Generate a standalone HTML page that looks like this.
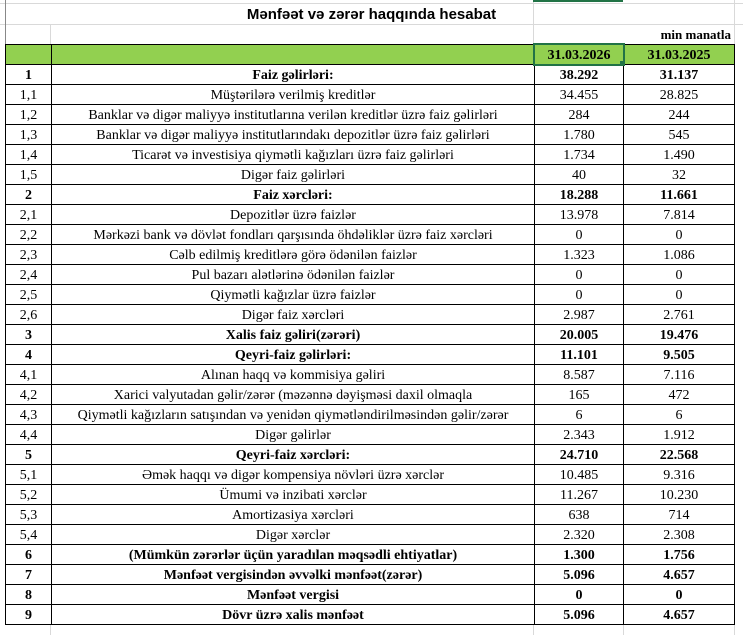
<!DOCTYPE html>
<html><head><meta charset="utf-8"><style>
body{margin:0;width:743px;height:635px;background:#fff;position:relative;overflow:hidden;font-family:"Liberation Serif",serif;}
.grid{position:absolute;background:#d9d9d9;}
.title{position:absolute;left:0;width:743px;top:6px;text-align:center;font:bold 15px "Liberation Sans",sans-serif;color:#000;}
.unit{position:absolute;right:12px;top:27px;font:bold 13px "Liberation Serif",serif;}
table{position:absolute;left:5px;top:44px;border-collapse:collapse;table-layout:fixed;}
td{border:1px solid #000;height:17px;padding:2px 0 0 0;text-align:center;font-size:14px;line-height:17px;white-space:nowrap;overflow:hidden;}
tr.h td{background:#92d050;font-weight:bold;font-size:14px;}
tr.b td{font-weight:bold;}
.sel{position:absolute;left:533px;top:43px;width:88px;height:19px;border:2px solid #217346;}
.selh{position:absolute;left:533px;top:0;width:90px;height:2px;background:#217346;}
.hd{position:absolute;left:620px;top:61px;width:5px;height:5px;background:#217346;}
</style></head><body>
<div class="grid" style="left:0;top:3px;width:743px;height:1px"></div>
<div class="grid" style="left:0;top:24px;width:743px;height:1px"></div>
<div class="grid" style="left:50px;top:24px;width:1px;height:20px"></div>
<div class="grid" style="left:533px;top:0;width:1px;height:44px"></div>
<div class="grid" style="left:734px;top:0;width:1px;height:635px"></div>
<div class="grid" style="left:5px;top:0;width:1px;height:44px;background:#888"></div>
<div class="grid" style="left:50px;top:624px;width:1px;height:11px"></div>
<div class="grid" style="left:533px;top:624px;width:1px;height:11px"></div>
<div class="grid" style="left:623px;top:624px;width:1px;height:11px"></div>
<div class="selh"></div>
<div class="title">Mənfəət və zərər haqqında hesabat</div>
<div class="unit">min manatla</div>
<table>
<colgroup><col style="width:46px"><col style="width:483px"><col style="width:89px"><col style="width:111px"></colgroup>
<tr class="h"><td></td><td></td><td>31.03.2026</td><td>31.03.2025</td></tr>
<tr class="b"><td>1</td><td>Faiz gəlirləri:</td><td>38.292</td><td>31.137</td></tr>
<tr><td>1,1</td><td>Müştərilərə verilmiş kreditlər</td><td>34.455</td><td>28.825</td></tr>
<tr><td>1,2</td><td>Banklar və digər maliyyə institutlarına verilən kreditlər üzrə faiz gəlirləri</td><td>284</td><td>244</td></tr>
<tr><td>1,3</td><td>Banklar və digər maliyyə institutlarındakı depozitlər üzrə faiz gəlirləri</td><td>1.780</td><td>545</td></tr>
<tr><td>1,4</td><td>Ticarət və investisiya qiymətli kağızları üzrə faiz gəlirləri</td><td>1.734</td><td>1.490</td></tr>
<tr><td>1,5</td><td>Digər faiz gəlirləri</td><td>40</td><td>32</td></tr>
<tr class="b"><td>2</td><td>Faiz xərcləri:</td><td>18.288</td><td>11.661</td></tr>
<tr><td>2,1</td><td>Depozitlər üzrə faizlər</td><td>13.978</td><td>7.814</td></tr>
<tr><td>2,2</td><td>Mərkəzi bank və dövlət fondları qarşısında öhdəliklər üzrə faiz xərcləri</td><td>0</td><td>0</td></tr>
<tr><td>2,3</td><td>Cəlb edilmiş kreditlərə görə ödənilən faizlər</td><td>1.323</td><td>1.086</td></tr>
<tr><td>2,4</td><td>Pul bazarı alətlərinə ödənilən faizlər</td><td>0</td><td>0</td></tr>
<tr><td>2,5</td><td>Qiymətli kağızlar üzrə faizlər</td><td>0</td><td>0</td></tr>
<tr><td>2,6</td><td>Digər faiz xərcləri</td><td>2.987</td><td>2.761</td></tr>
<tr class="b"><td>3</td><td>Xalis faiz gəliri(zərəri)</td><td>20.005</td><td>19.476</td></tr>
<tr class="b"><td>4</td><td>Qeyri-faiz gəlirləri:</td><td>11.101</td><td>9.505</td></tr>
<tr><td>4,1</td><td>Alınan haqq və kommisiya gəliri</td><td>8.587</td><td>7.116</td></tr>
<tr><td>4,2</td><td>Xarici valyutadan gəlir/zərər (məzənnə dəyişməsi daxil olmaqla</td><td>165</td><td>472</td></tr>
<tr><td>4,3</td><td>Qiymətli kağızların satışından və yenidən qiymətləndirilməsindən gəlir/zərər</td><td>6</td><td>6</td></tr>
<tr><td>4,4</td><td>Digər gəlirlər</td><td>2.343</td><td>1.912</td></tr>
<tr class="b"><td>5</td><td>Qeyri-faiz xərcləri:</td><td>24.710</td><td>22.568</td></tr>
<tr><td>5,1</td><td>Əmək haqqı və digər kompensiya növləri üzrə xərclər</td><td>10.485</td><td>9.316</td></tr>
<tr><td>5,2</td><td>Ümumi və inzibati xərclər</td><td>11.267</td><td>10.230</td></tr>
<tr><td>5,3</td><td>Amortizasiya xərcləri</td><td>638</td><td>714</td></tr>
<tr><td>5,4</td><td>Digər xərclər</td><td>2.320</td><td>2.308</td></tr>
<tr class="b"><td>6</td><td>(Mümkün zərərlər üçün yaradılan məqsədli ehtiyatlar)</td><td>1.300</td><td>1.756</td></tr>
<tr class="b"><td>7</td><td>Mənfəət vergisindən əvvəlki mənfəət(zərər)</td><td>5.096</td><td>4.657</td></tr>
<tr class="b"><td>8</td><td>Mənfəət vergisi</td><td>0</td><td>0</td></tr>
<tr class="b"><td>9</td><td>Dövr üzrə xalis mənfəət</td><td>5.096</td><td>4.657</td></tr>
</table>
<div class="sel"></div><div class="hd"></div>
</body></html>
